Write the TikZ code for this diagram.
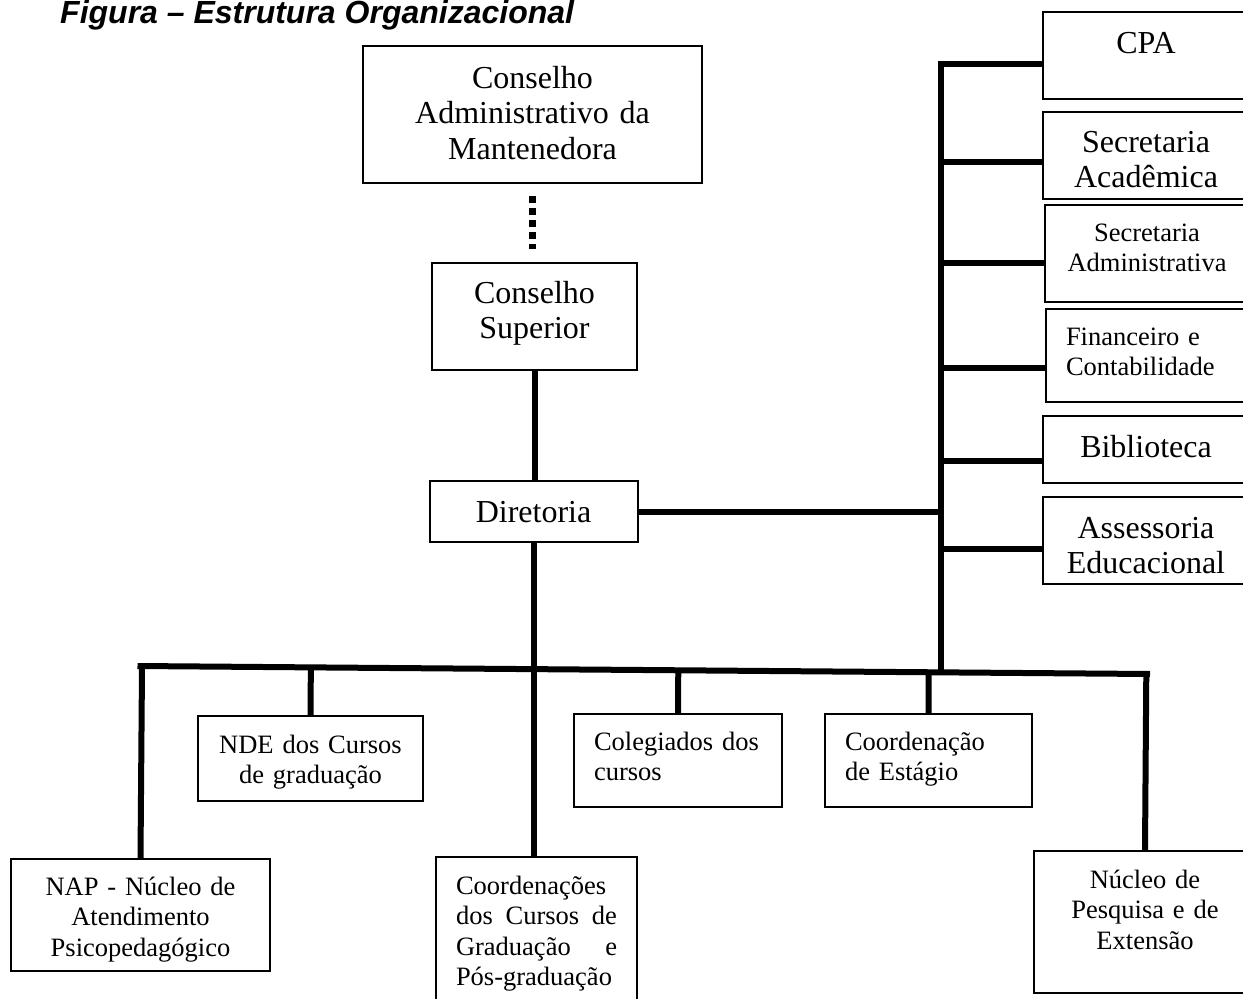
\documentclass[tikz,border=0pt]{standalone}
\usepackage{fontspec}
\setmainfont{Liberation Serif}
\newfontfamily\titlefont{Liberation Sans}
\usetikzlibrary{calc}

\newcommand\bigtxt{\fontsize{32}{35.5}\selectfont}
\newcommand\smalltxt{\fontsize{26.5}{30.5}\selectfont}

\tikzset{
  orgbox/.style={draw, line width=2pt, inner sep=0pt, align=center, font=\bigtxt, text width=#1},
  smallbox/.style={orgbox=#1, font=\smalltxt},
  leftbox/.style={smallbox=#1, align=left, inner xsep=20pt},
  hd/.style 2 args={text height=#1pt, text depth=#2pt},
  link/.style={line width=6pt},
  dotlink/.style={line width=6.5pt, dash pattern=on 7pt off 5pt},
}

\begin{document}
\begin{tikzpicture}[x=1pt, y=-1pt]
\useasboundingbox (0,0) rectangle (1243,999);
\node[anchor=base west, inner sep=0pt, font=\titlefont\bfseries\itshape\fontsize{32}{36}\selectfont] (title) at (60,23.5) {Figura – Estrutura Organizacional};

% centro
\node[orgbox=339pt, hd={42}{95}] (consA) at (532.5,114.5) {Conselho\\ Administrativo da\\ Mantenedora};
\node[orgbox=205pt, hd={40}{67}] (consB) at (534.5,316.5) {Conselho\\ Superior};
\node[orgbox=208pt, hd={41}{20}] (dir) at (533.5,511.5) {Diretoria};

% coluna da direita
\node[orgbox=206pt, hd={41}{46}] (cpa) at (1146,55.5) {CPA};
\node[orgbox=206pt, hd={40}{47}] (secacad) at (1146,155.5) {Secretaria\\ Acadêmica};
\node[smallbox=204pt, hd={36}{61}] (secadm) at (1147,253.5) {Secretaria\\ Administrativa};
\node[leftbox=163pt, hd={36}{57}] (fin) at (1147.5,355.5) {Financeiro e\\ Contabilidade};
\node[orgbox=206pt, hd={41}{26}] (bib) at (1146,449.5) {Biblioteca};
\node[orgbox=206pt, hd={41}{46}] (assess) at (1146,540.5) {Assessoria\\ Educacional};

% linha de baixo
\node[smallbox=225pt, hd={37}{48}] (nde) at (310.5,758.5) {NDE dos Cursos\\ de graduação};
\node[leftbox=168pt, hd={36}{57}] (coleg) at (678,760.5) {Colegiados dos\\ cursos};
\node[leftbox=167pt, hd={36}{57}] (estag) at (928.5,760.5) {Coordenação\\ de Estágio};
\node[smallbox=259pt, hd={36}{76}] (nap) at (140.5,915) {NAP - Núcleo de\\ Atendimento\\ Psicopedagógico};
\node[leftbox=161pt, hd={37}{118}] (coords) at (536.5,934.5) {Coordenações\\ dos\hfill Cursos\hfill de\\ Graduação\hfill e\\ Pós-graduação};
\node[smallbox=222pt, hd={37}{105}] (nucleo) at (1145,922) {Núcleo de\\ Pesquisa e de\\ Extensão};

\coordinate (spinebot) at (941,671);
\coordinate (busL) at (137.5,666);
\coordinate (busR) at (1150,674);

\draw[dotlink, shorten <=12pt, shorten >=13pt] (consA.south) -- (consA.south |- consB.north);
\draw[link] (consB.south) -- (consB.south |- dir.north);
\draw[link] (dir.south) -- (dir.south |- coords.north);
\draw[link] (dir.east) -- (dir.east -| spinebot);

\draw[link] ([yshift=-8.5pt]cpa.west) -| (spinebot);
\foreach \n/\s in {secacad/-6.5, secadm/-9.5, fin/-12.5, bib/-11.5, assess/-8.5}
  \draw[link] ([yshift=\s pt]\n.west) -- ([yshift=\s pt]\n.west -| spinebot);

\draw[link] (busL) -- (busR);
\foreach \n in {nap, nde, coleg, estag, nucleo}
  \draw[link] (\n.north) -- ($(busL)!(\n.north)!(busR)$);
\end{tikzpicture}
\end{document}
